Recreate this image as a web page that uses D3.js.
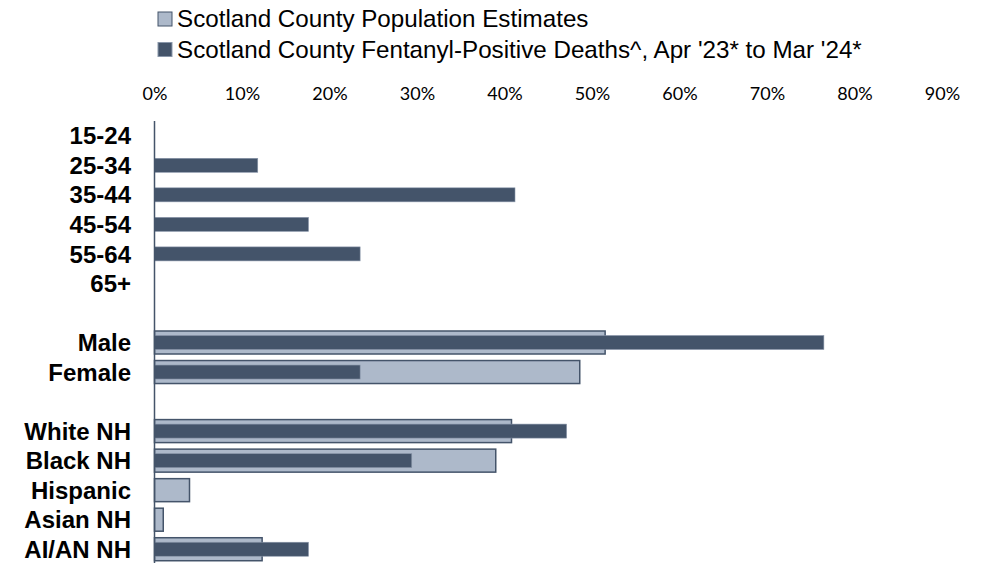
<!DOCTYPE html>
<html><head><meta charset="utf-8">
<script src="https://cdn.jsdelivr.net/npm/d3@7"></script>
<style>body{margin:0;background:#fff}svg{display:block}</style>
</head><body>
<svg id="c" width="982" height="563"></svg>
<script>
const categories = ["15-24","25-34","35-44","45-54","55-64","65+","gap1","Male","Female","gap2","White NH","Black NH","Hispanic","Asian NH","AI/AN NH"];
const popValues =    [null,null,null,null,null,null,null,51.5,48.6,null,40.8,39.0,4.0,1.0,12.3];
const deathValues =  [0,11.8,41.2,17.6,23.5,0,null,76.5,23.5,null,47.1,29.4,0,0,17.6];
const tickValues = [0,10,20,30,40,50,60,70,80,90];
const seriesNames = ["Scotland County Population Estimates","Scotland County Fentanyl-Positive Deaths^, Apr '23* to Mar '24*"];

const svg = d3.select("#c");
const x = d3.scaleLinear().domain([0,90]).range([154.5,942]);
const y = d3.scaleBand().domain(categories).range([121,564]).paddingInner(0).paddingOuter(0);

// axis ticks (top labels)
const ax = svg.append("g").attr("transform","translate(0,100)")
  .call(d3.axisTop(x).tickValues(tickValues).tickFormat(d=>d+"%").tickSize(0).tickPadding(0));
ax.select(".domain").remove();
ax.selectAll("text").attr("font-family","Lato, 'Open Sans', sans-serif").attr("font-size",18).attr("fill","#000").attr("dy",0);

// pop bars
const popH = 23, deathH = 14;
svg.append("g").selectAll("rect").data(categories.map((c,i)=>({c,v:popValues[i]})).filter(d=>d.v))
  .join("rect")
  .attr("x",x(0)).attr("y",d=>y(d.c)+y.bandwidth()/2-popH/2)
  .attr("width",d=>x(d.v)-x(0)).attr("height",popH)
  .attr("fill","#adb9ca").attr("stroke","#44546a").attr("stroke-width",1.5);

svg.append("g").selectAll("rect").data(categories.map((c,i)=>({c,v:deathValues[i]})).filter(d=>d.v))
  .join("rect")
  .attr("x",x(0)).attr("y",d=>y(d.c)+y.bandwidth()/2-deathH/2)
  .attr("width",d=>x(d.v)-x(0)).attr("height",deathH)
  .attr("fill","#44546a").attr("stroke","#8a97aa").attr("stroke-width",0.6);

// y axis line
svg.append("line").attr("x1",x(0)).attr("x2",x(0)).attr("y1",121).attr("y2",563)
  .attr("stroke","#44546a").attr("stroke-width",1.5);

// category labels
const yAx = svg.append("g").attr("transform","translate(131,0)")
  .call(d3.axisLeft(y).tickSize(0).tickPadding(0).tickFormat(d=>d.startsWith("gap")?"":d));
yAx.select(".domain").remove();
yAx.selectAll("text").attr("font-family","Arial, 'Liberation Sans', sans-serif").attr("font-weight","bold")
  .attr("font-size",24).attr("fill","#000").attr("dy","0.36em");

// legend
const leg = svg.append("g");
const legFill = ["#adb9ca","#44546a"];
seriesNames.forEach((n,i)=>{
  const base = 27 + i*30.5;
  leg.append("rect").attr("x",158).attr("y",base-15).attr("width",14).attr("height",14)
    .attr("fill",legFill[i]).attr("stroke",i===0?"#44546a":"#8a97aa").attr("stroke-width",1);
  leg.append("text").attr("x",177).attr("y",base)
    .attr("font-family","Arial, 'Liberation Sans', sans-serif").attr("font-size",24.2).attr("fill","#000").text(n);
});
</script>
</body></html>
